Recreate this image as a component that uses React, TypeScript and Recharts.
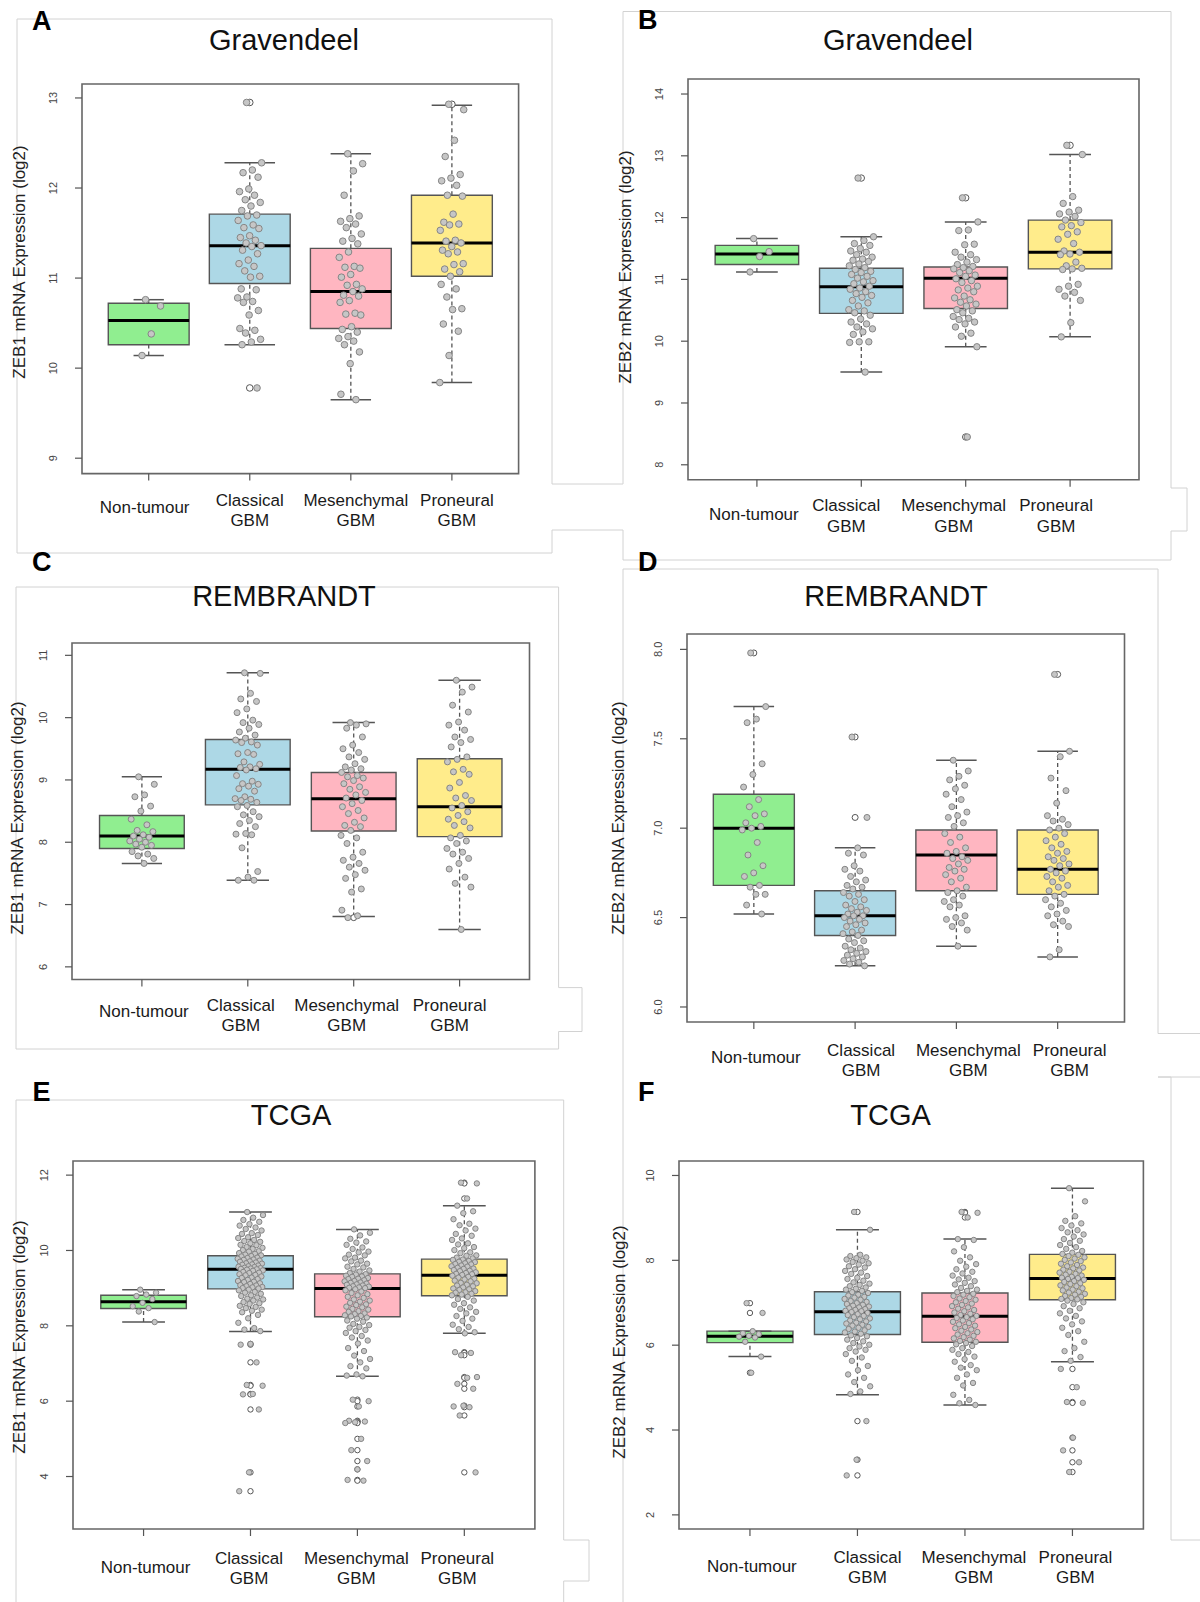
import React from "react";
import { ComposedChart, XAxis, YAxis, Scatter, ReferenceArea, ReferenceLine } from "recharts";

// ---------- shared ----------
const CATEGORIES = ["Non-tumour", "Classical GBM", "Mesenchymal GBM", "Proneural GBM"];
const BOX_COLORS = ["#90EE90", "#ADD8E6", "#FFB6C1", "#FFEC8B"];
const X_DOMAIN: [number, number] = [0.34, 4.66];

// box stats: [lower whisker, Q1, median, Q3, upper whisker]
// ---------- Panel A: Gravendeel ZEB1 ----------
const A_YTICKS = [9, 10, 11, 12, 13];
const A_BOXES = [
  [10.14, 10.26, 10.53, 10.72, 10.76],
  [10.26, 10.94, 11.36, 11.71, 12.28],
  [9.65, 10.44, 10.85, 11.33, 12.38],
  [9.84, 11.02, 11.39, 11.92, 12.92],
];
const A_NT = [10.76, 10.69, 10.38, 10.14];
const A_CL = [12.95, 12.28, 12.20, 12.17, 12.12, 11.99, 11.96, 11.92, 11.87, 11.84, 11.80, 11.75, 11.70, 11.69, 11.64, 11.59, 11.56, 11.55, 11.47, 11.45, 11.42, 11.39, 11.36, 11.35, 11.31, 11.27, 11.20, 11.16, 11.13, 11.08, 11.02, 11.01, 10.88, 10.87, 10.79, 10.78, 10.74, 10.73, 10.64, 10.59, 10.44, 10.42, 10.39, 10.32, 10.29, 10.26, 9.78];
const A_ME = [12.38, 12.27, 12.19, 11.92, 11.69, 11.66, 11.63, 11.60, 11.56, 11.49, 11.44, 11.41, 11.38, 11.29, 11.23, 11.13, 11.12, 11.11, 11.04, 11.01, 10.93, 10.92, 10.88, 10.85, 10.81, 10.80, 10.75, 10.73, 10.61, 10.60, 10.59, 10.46, 10.43, 10.40, 10.35, 10.33, 10.30, 10.26, 10.18, 10.05, 9.71, 9.65];
const A_PN = [12.93, 12.87, 12.53, 12.35, 12.15, 12.11, 12.08, 12.03, 11.92, 11.91, 11.71, 11.62, 11.60, 11.59, 11.53, 11.42, 11.41, 11.39, 11.35, 11.31, 11.29, 11.27, 11.16, 11.15, 11.10, 11.07, 11.02, 10.93, 10.88, 10.79, 10.66, 10.65, 10.49, 10.41, 10.14, 9.84];

// ---------- Panel B: Gravendeel ZEB2 ----------
const B_YTICKS = [8, 9, 10, 11, 12, 13, 14];
const B_BOXES = [
  [11.12, 11.24, 11.41, 11.55, 11.66],
  [9.50, 10.45, 10.88, 11.18, 11.69],
  [9.91, 10.53, 11.02, 11.20, 11.93],
  [10.07, 11.17, 11.44, 11.96, 13.02],
];
const B_NT = [11.66, 11.45, 11.37, 11.12];
const B_CL = [12.64, 11.69, 11.63, 11.58, 11.55, 11.50, 11.46, 11.44, 11.40, 11.36, 11.33, 11.31, 11.29, 11.25, 11.22, 11.19, 11.16, 11.13, 11.11, 11.08, 11.05, 11.02, 10.98, 10.96, 10.93, 10.89, 10.86, 10.84, 10.80, 10.77, 10.74, 10.71, 10.66, 10.62, 10.57, 10.51, 10.49, 10.46, 10.42, 10.36, 10.31, 10.28, 10.23, 10.20, 10.15, 10.11, 9.99, 9.99, 9.98, 9.50];
const B_ME = [12.32, 11.93, 11.80, 11.79, 11.57, 11.56, 11.44, 11.40, 11.36, 11.32, 11.28, 11.24, 11.21, 11.19, 11.17, 11.14, 11.11, 11.07, 11.05, 11.01, 10.98, 10.95, 10.89, 10.86, 10.83, 10.80, 10.73, 10.70, 10.67, 10.63, 10.60, 10.57, 10.51, 10.49, 10.46, 10.40, 10.37, 10.35, 10.31, 10.28, 10.23, 10.13, 10.08, 9.91, 8.45];
const B_PN = [13.17, 13.02, 12.34, 12.23, 12.12, 12.09, 12.06, 12.02, 11.96, 11.92, 11.87, 11.85, 11.77, 11.73, 11.65, 11.58, 11.46, 11.44, 11.41, 11.40, 11.28, 11.22, 11.18, 11.17, 11.16, 10.92, 10.89, 10.84, 10.79, 10.73, 10.66, 10.30, 10.07];

// ---------- Panel C: REMBRANDT ZEB1 ----------
const C_YTICKS = [6, 7, 8, 9, 10, 11];
const C_BOXES = [
  [7.66, 7.90, 8.10, 8.43, 9.05],
  [7.39, 8.60, 9.17, 9.65, 10.72],
  [6.81, 8.18, 8.70, 9.12, 9.92],
  [6.60, 8.09, 8.57, 9.34, 10.60],
];
const C_NT = [9.05, 8.93, 8.76, 8.73, 8.58, 8.50, 8.37, 8.28, 8.19, 8.17, 8.12, 8.10, 8.08, 8.05, 8.02, 8.00, 7.97, 7.95, 7.92, 7.85, 7.81, 7.78, 7.74, 7.66];
const C_CL = [10.72, 10.71, 10.39, 10.30, 10.26, 10.14, 10.08, 9.96, 9.92, 9.89, 9.83, 9.77, 9.72, 9.67, 9.64, 9.61, 9.60, 9.56, 9.44, 9.42, 9.41, 9.29, 9.25, 9.21, 9.20, 9.18, 9.16, 9.07, 8.98, 8.94, 8.93, 8.90, 8.86, 8.82, 8.73, 8.70, 8.69, 8.67, 8.64, 8.59, 8.57, 8.49, 8.44, 8.41, 8.35, 8.30, 8.25, 8.14, 8.13, 8.12, 7.91, 7.53, 7.44, 7.39, 7.39];
const C_ME = [9.92, 9.90, 9.88, 9.83, 9.69, 9.56, 9.50, 9.44, 9.37, 9.33, 9.26, 9.21, 9.18, 9.16, 9.12, 9.07, 9.05, 9.03, 8.99, 8.94, 8.89, 8.85, 8.80, 8.76, 8.71, 8.67, 8.62, 8.57, 8.51, 8.46, 8.39, 8.32, 8.27, 8.25, 8.19, 8.11, 8.07, 7.98, 7.84, 7.76, 7.71, 7.66, 7.60, 7.55, 7.48, 7.42, 7.25, 7.20, 6.91, 6.82, 6.79];
const C_PN = [10.60, 10.49, 10.41, 10.20, 10.09, 9.93, 9.88, 9.80, 9.69, 9.65, 9.60, 9.53, 9.37, 9.33, 9.29, 9.17, 9.13, 9.09, 8.96, 8.87, 8.75, 8.71, 8.67, 8.59, 8.55, 8.49, 8.43, 8.37, 8.33, 8.27, 8.23, 8.11, 8.07, 8.02, 7.98, 7.90, 7.84, 7.81, 7.74, 7.66, 7.57, 7.44, 7.34, 7.28, 6.60];

// ---------- Panel D: REMBRANDT ZEB2 ----------
const D_YTICKS = [6.0, 6.5, 7.0, 7.5, 8.0];
const D_BOXES = [
  [6.52, 6.68, 7.00, 7.19, 7.68],
  [6.23, 6.40, 6.51, 6.65, 6.89],
  [6.34, 6.65, 6.85, 6.99, 7.38],
  [6.28, 6.63, 6.77, 6.99, 7.43],
];
const D_NT = [7.98, 7.68, 7.61, 7.59, 7.36, 7.30, 7.23, 7.16, 7.12, 7.08, 7.07, 7.03, 7.01, 7.00, 6.99, 6.92, 6.85, 6.79, 6.75, 6.73, 6.68, 6.67, 6.63, 6.63, 6.57, 6.52];
const D_CL = [7.51, 7.06, 6.89, 6.86, 6.85, 6.79, 6.77, 6.76, 6.73, 6.71, 6.70, 6.68, 6.67, 6.66, 6.64, 6.63, 6.62, 6.60, 6.59, 6.57, 6.56, 6.55, 6.54, 6.53, 6.52, 6.51, 6.51, 6.50, 6.49, 6.48, 6.47, 6.46, 6.45, 6.43, 6.42, 6.41, 6.40, 6.38, 6.37, 6.36, 6.34, 6.33, 6.32, 6.31, 6.30, 6.29, 6.28, 6.27, 6.26, 6.25, 6.24, 6.23];
const D_ME = [7.38, 7.32, 7.29, 7.27, 7.24, 7.22, 7.19, 7.16, 7.12, 7.09, 7.07, 7.06, 7.03, 7.01, 6.97, 6.95, 6.92, 6.89, 6.87, 6.86, 6.84, 6.83, 6.82, 6.80, 6.78, 6.77, 6.76, 6.74, 6.72, 6.70, 6.67, 6.65, 6.64, 6.62, 6.60, 6.59, 6.57, 6.56, 6.51, 6.50, 6.49, 6.47, 6.45, 6.43, 6.34];
const D_PN = [7.86, 7.43, 7.40, 7.28, 7.21, 7.14, 7.07, 7.05, 7.04, 7.02, 7.00, 6.99, 6.97, 6.95, 6.93, 6.91, 6.89, 6.87, 6.86, 6.84, 6.83, 6.82, 6.80, 6.79, 6.77, 6.76, 6.75, 6.73, 6.72, 6.70, 6.68, 6.67, 6.65, 6.63, 6.62, 6.60, 6.58, 6.56, 6.54, 6.52, 6.51, 6.48, 6.46, 6.45, 6.32, 6.28];

// ---------- Panel E: TCGA ZEB1 ----------
const E_YTICKS = [4, 6, 8, 10, 12];
const E_BOXES = [
  [8.10, 8.46, 8.64, 8.81, 8.96],
  [7.85, 8.98, 9.50, 9.86, 11.02],
  [6.66, 8.24, 8.99, 9.38, 10.56],
  [7.80, 8.80, 9.34, 9.77, 11.19],
];
const E_NT = [8.96, 8.88, 8.83, 8.79, 8.71, 8.61, 8.52, 8.47, 8.38, 8.10];
const E_CL = [11.02, 10.94, 10.87, 10.81, 10.76, 10.70, 10.66, 10.61, 10.57, 10.53, 10.46, 10.44, 10.41, 10.35, 10.33, 10.28, 10.25, 10.23, 10.19, 10.15, 10.14, 10.09, 10.07, 10.04, 10.01, 9.98, 9.97, 9.93, 9.91, 9.89, 9.87,
  9.85, 9.84, 9.81, 9.80, 9.78, 9.76, 9.75, 9.73, 9.71, 9.70, 9.68, 9.66, 9.65, 9.63, 9.62, 9.60, 9.58, 9.57, 9.56, 9.54, 9.53, 9.52, 9.51, 9.50,
  9.49, 9.47, 9.46, 9.43, 9.41, 9.40, 9.37, 9.35, 9.34, 9.31, 9.28, 9.27, 9.24, 9.22, 9.19, 9.17, 9.16, 9.13, 9.11, 9.08, 9.07, 9.05, 9.03, 9.02, 9.00, 8.99,
  8.96, 8.94, 8.90, 8.88, 8.85, 8.81, 8.79, 8.75, 8.72, 8.70, 8.67, 8.63, 8.60, 8.58, 8.53, 8.50, 8.47, 8.43, 8.40, 8.36, 8.29, 8.20, 8.08, 7.94, 7.90, 7.86,
  7.52, 7.50, 7.03, 6.43, 6.41, 6.19, 6.18, 5.78, 4.11, 3.61];
const E_ME = [10.56, 10.47, 10.40, 10.31, 10.24, 10.21, 10.15, 10.08, 10.04, 9.97, 9.95, 9.89, 9.87, 9.81, 9.79, 9.73, 9.71, 9.65, 9.63, 9.57, 9.55, 9.51, 9.47, 9.44, 9.40,
  9.37, 9.36, 9.33, 9.31, 9.30, 9.27, 9.25, 9.24, 9.21, 9.19, 9.18, 9.15, 9.14, 9.12, 9.10, 9.09, 9.07, 9.05, 9.04, 9.02, 9.01, 9.00,
  8.97, 8.94, 8.91, 8.87, 8.84, 8.81, 8.77, 8.74, 8.70, 8.67, 8.64, 8.61, 8.57, 8.55, 8.51, 8.49, 8.45, 8.43, 8.39, 8.37, 8.33, 8.31, 8.28, 8.26, 8.25,
  8.22, 8.19, 8.14, 8.11, 8.05, 8.02, 7.97, 7.95, 7.89, 7.86, 7.81, 7.73, 7.69, 7.61, 7.53, 7.41, 7.33, 7.21, 7.12, 7.03, 6.93, 6.87, 6.71, 6.68, 6.66,
  6.04, 6.00, 5.86, 5.48, 5.46, 5.44, 5.42, 5.00, 4.70, 4.41, 4.19, 3.91, 3.89];
const E_PN = [11.80, 11.78, 11.38, 11.19, 11.04, 10.99, 10.83, 10.71, 10.67, 10.58, 10.53, 10.44, 10.39, 10.32, 10.28, 10.19, 10.16, 10.09, 10.06, 10.01, 9.95, 9.93, 9.87, 9.86, 9.81, 9.79,
  9.76, 9.75, 9.72, 9.70, 9.69, 9.66, 9.64, 9.63, 9.60, 9.58, 9.57, 9.54, 9.52, 9.51, 9.48, 9.46, 9.45, 9.42, 9.40, 9.38, 9.37, 9.35,
  9.33, 9.30, 9.28, 9.25, 9.23, 9.20, 9.18, 9.14, 9.13, 9.09, 9.07, 9.05, 9.02, 8.99, 8.97, 8.95, 8.92, 8.89, 8.88, 8.85, 8.83, 8.81,
  8.77, 8.71, 8.67, 8.60, 8.56, 8.49, 8.45, 8.37, 8.33, 8.26, 8.19, 8.13, 8.03, 7.97, 7.91, 7.83, 7.80,
  7.30, 7.28, 7.22, 6.64, 6.62, 6.46, 6.33, 5.88, 5.86, 5.84, 5.62, 4.11];

// ---------- Panel F: TCGA ZEB2 ----------
const F_YTICKS = [2, 4, 6, 8, 10];
const F_BOXES = [
  [5.73, 6.06, 6.21, 6.33, 6.33],
  [4.83, 6.25, 6.79, 7.26, 8.72],
  [4.59, 6.07, 6.68, 7.23, 8.50],
  [5.61, 7.07, 7.57, 8.14, 9.70],
];
const F_NT = [6.99, 6.76, 6.33, 6.28, 6.26, 6.22, 6.20, 6.18, 6.08, 5.73, 5.35];
const F_CL = [9.14, 8.72, 8.13, 8.10, 8.07, 8.05, 8.02, 7.99, 7.96, 7.93, 7.90, 7.86, 7.83, 7.79, 7.75, 7.71, 7.68, 7.63, 7.59, 7.56, 7.52, 7.48, 7.45, 7.42, 7.39, 7.36, 7.33, 7.31, 7.28,
  7.25, 7.23, 7.19, 7.17, 7.14, 7.12, 7.09, 7.07, 7.04, 7.02, 6.99, 6.97, 6.95, 6.93, 6.91, 6.89, 6.87, 6.85, 6.83, 6.81, 6.80,
  6.78, 6.76, 6.73, 6.71, 6.69, 6.66, 6.63, 6.61, 6.58, 6.56, 6.53, 6.51, 6.48, 6.46, 6.43, 6.41, 6.38, 6.35, 6.32, 6.30, 6.27,
  6.23, 6.21, 6.17, 6.13, 6.09, 6.05, 6.01, 5.97, 5.93, 5.89, 5.85, 5.79, 5.71, 5.63, 5.51, 5.41, 5.31, 5.23, 5.13, 5.03, 4.91, 4.85,
  4.21, 3.30, 2.93];
const F_ME = [9.14, 9.12, 9.01, 8.50, 8.48, 8.31, 8.21, 8.07, 7.99, 7.91, 7.85, 7.79, 7.73, 7.69, 7.64, 7.59, 7.55, 7.51, 7.47, 7.43, 7.39, 7.35, 7.31, 7.28, 7.25,
  7.21, 7.19, 7.16, 7.13, 7.10, 7.07, 7.04, 7.01, 6.98, 6.95, 6.92, 6.89, 6.86, 6.83, 6.80, 6.77, 6.74, 6.71, 6.69,
  6.66, 6.64, 6.61, 6.58, 6.55, 6.52, 6.49, 6.46, 6.43, 6.40, 6.37, 6.34, 6.31, 6.28, 6.25, 6.22, 6.19, 6.16, 6.13, 6.10, 6.08,
  6.05, 6.02, 5.98, 5.93, 5.89, 5.84, 5.79, 5.73, 5.67, 5.61, 5.53, 5.47, 5.41, 5.31, 5.23, 5.11, 5.05, 4.83, 4.71, 4.63, 4.59];
const F_PN = [9.70, 9.39, 9.04, 8.93, 8.87, 8.82, 8.76, 8.71, 8.66, 8.61, 8.56, 8.50, 8.46, 8.41, 8.36, 8.31, 8.27, 8.22, 8.18, 8.15,
  8.13, 8.10, 8.07, 8.04, 8.01, 7.98, 7.95, 7.92, 7.89, 7.86, 7.83, 7.81, 7.78, 7.76, 7.73, 7.71, 7.68, 7.66, 7.64, 7.61, 7.59, 7.58,
  7.56, 7.54, 7.51, 7.49, 7.46, 7.44, 7.41, 7.39, 7.36, 7.34, 7.31, 7.29, 7.26, 7.24, 7.21, 7.19, 7.16, 7.14, 7.11, 7.09, 7.08,
  7.05, 7.01, 6.97, 6.92, 6.87, 6.81, 6.75, 6.69, 6.63, 6.56, 6.49, 6.41, 6.33, 6.24, 6.08, 5.93, 5.86, 5.72, 5.63,
  5.44, 5.01, 4.66, 4.64, 3.82, 3.52, 3.24, 3.01];

// ---------- rendering ----------
const FONT = "'Liberation Sans', Arial, Helvetica, sans-serif";
const JIT_AMP = 0.12;
const jit = (k: number) => (((k * 0.6180339887 + 0.37) % 1) - 0.5) * 2;

interface PanelDef {
  plot: [number, number, number, number];
  yDomain: [number, number];
  yTicks: number[];
  decimals: number;
  boxes: number[][];
  groups: number[][];
  capW: number[];
  labelDx: number[];
  labelDy: [number, number, number];
  r: number;
}

const L = 60, T = 10, R = 10, B = 70;

function Panel({ def }: { def: PanelDef }) {
  const [x1, y1, x2, y2] = def.plot;
  const pw = x2 - x1, ph = y2 - y1;
  const W = pw + L + R, H = ph + T + B;
  const bottom = T + ph;
  const pts = def.groups.map((vals, g) => vals.map((v, k) => ({ x: g + 1 + JIT_AMP * jit(k), y: v })));
  const outs = def.groups.map((vals, g) =>
    vals.filter((v) => v > def.boxes[g][4] + 1e-9 || v < def.boxes[g][0] - 1e-9).map((v) => ({ x: g + 1, y: v }))
  );
  const xTick = (p: any) => {
    const g = Math.round(p.payload.value) - 1;
    const lines = CATEGORIES[g].split(" ");
    const cx = p.x + def.labelDx[g];
    const common = { textAnchor: "middle" as const, dominantBaseline: "central" as const, fontSize: 17, fill: "#1a1a1a", fontFamily: FONT };
    if (lines.length === 1) {
      return <text x={cx} y={bottom + def.labelDy[2]} {...common}>{lines[0]}</text>;
    }
    return (
      <g>
        <text x={cx} y={bottom + def.labelDy[0]} {...common}>{lines[0]}</text>
        <text x={cx} y={bottom + def.labelDy[1]} {...common}>{lines[1]}</text>
      </g>
    );
  };
  const yTick = (p: any) => {
    const cx = L - 29;
    return (
      <text x={cx} y={p.y} transform={`rotate(-90 ${cx} ${p.y})`} textAnchor="middle" dominantBaseline="central" fontSize={11} fill="#444" fontFamily={FONT}>
        {Number(p.payload.value).toFixed(def.decimals)}
      </text>
    );
  };
  return (
    <div style={{ position: "absolute", left: x1 - L, top: y1 - T }}>
      <ComposedChart width={W} height={H} margin={{ top: T, right: R, bottom: 0, left: 0 }}>
        <XAxis type="number" dataKey="x" domain={X_DOMAIN} ticks={[1, 2, 3, 4]} allowDataOverflow interval={0}
          axisLine={false} tickLine={{ stroke: "#555", strokeWidth: 1.2 }} tickSize={7} height={B} tick={xTick} />
        <YAxis type="number" dataKey="y" domain={def.yDomain} ticks={def.yTicks} allowDataOverflow interval={0}
          axisLine={false} tickLine={{ stroke: "#555", strokeWidth: 1.2 }} tickSize={7} width={L} tick={yTick} />
        {def.boxes.map((b, g) => {
          const c = g + 1;
          const hw = 0.4;
          const cw = def.capW[g] / 2;
          return [
            <ReferenceLine key={`wu${g}`} segment={[{ x: c, y: b[3] }, { x: c, y: b[4] }]} stroke="#555" strokeWidth={1.3} strokeDasharray="4 3" ifOverflow="visible" />,
            <ReferenceLine key={`wl${g}`} segment={[{ x: c, y: b[0] }, { x: c, y: b[1] }]} stroke="#555" strokeWidth={1.3} strokeDasharray="4 3" ifOverflow="visible" />,
            <ReferenceLine key={`cu${g}`} segment={[{ x: c - cw, y: b[4] }, { x: c + cw, y: b[4] }]} stroke="#555" strokeWidth={1.5} ifOverflow="visible" />,
            <ReferenceLine key={`cl${g}`} segment={[{ x: c - cw, y: b[0] }, { x: c + cw, y: b[0] }]} stroke="#555" strokeWidth={1.5} ifOverflow="visible" />,
            <ReferenceArea key={`bx${g}`} x1={c - hw} x2={c + hw} y1={b[1]} y2={b[3]} fill={BOX_COLORS[g]} fillOpacity={1} stroke="#555" strokeWidth={1.4} ifOverflow="visible" />,
            <ReferenceLine key={`md${g}`} segment={[{ x: c - hw, y: b[2] }, { x: c + hw, y: b[2] }]} stroke="#000" strokeWidth={3} ifOverflow="visible" />,
          ];
        })}
        {outs.map((d, g) => (
          <Scatter key={`o${g}`} data={d} isAnimationActive={false}
            shape={(p: any) => <circle cx={p.cx} cy={p.cy} r={def.r} fill="#fff" stroke="#555" strokeWidth={1} />} />
        ))}
        {pts.map((d, g) => (
          <Scatter key={`p${g}`} data={d} isAnimationActive={false}
            shape={(p: any) => <circle cx={p.cx} cy={p.cy} r={def.r} fill="#c6c6c6" stroke="#858585" strokeWidth={1} />} />
        ))}
        <ReferenceArea x1={X_DOMAIN[0]} x2={X_DOMAIN[1]} y1={def.yDomain[0]} y2={def.yDomain[1]} fill="none" stroke="#666" strokeWidth={1.6} ifOverflow="visible" />
      </ComposedChart>
    </div>
  );
}

const PANELS: PanelDef[] = [
  { plot: [82, 84, 518.6, 473.6], yDomain: [8.829, 13.155], yTicks: A_YTICKS, decimals: 0, boxes: A_BOXES, groups: [A_NT, A_CL, A_ME, A_PN], capW: [0.3, 0.5, 0.4, 0.4], labelDx: [-4, 0, 5, 5], labelDy: [26.5, 47, 33.5], r: 3.3 },
  { plot: [687.5, 78.5, 1138.5, 479.3], yDomain: [7.757, 14.243], yTicks: B_YTICKS, decimals: 0, boxes: B_BOXES, groups: [B_NT, B_CL, B_ME, B_PN], capW: [0.4, 0.4, 0.4, 0.4], labelDx: [-3, -15, -12, -14], labelDy: [26, 46.5, 34.5], r: 3.2 },
  { plot: [72, 643, 529.5, 979.5], yDomain: [5.797, 11.198], yTicks: C_YTICKS, decimals: 0, boxes: C_BOXES, groups: [C_NT, C_CL, C_ME, C_PN], capW: [0.38, 0.4, 0.4, 0.4], labelDx: [2, -7, -7, -10], labelDy: [26.2, 46.2, 31.8], r: 3.0 },
  { plot: [687, 634, 1124.5, 1022], yDomain: [5.916, 8.086], yTicks: D_YTICKS, decimals: 1, boxes: D_BOXES, groups: [D_NT, D_CL, D_ME, D_PN], capW: [0.4, 0.4, 0.4, 0.4], labelDx: [2, 6, 12, 12], labelDy: [28.8, 48.6, 35], r: 3.0 },
  { plot: [72.7, 1161, 534.6, 1529], yDomain: [2.607, 12.375], yTicks: E_YTICKS, decimals: 0, boxes: E_BOXES, groups: [E_NT, E_CL, E_ME, E_PN], capW: [0.4, 0.4, 0.4, 0.4], labelDx: [2, -1.5, -1, -7], labelDy: [29.3, 49.2, 38.4], r: 2.7 },
  { plot: [679, 1161, 1143.4, 1529], yDomain: [1.667, 10.341], yTicks: F_YTICKS, decimals: 0, boxes: F_BOXES, groups: [F_NT, F_CL, F_ME, F_PN], capW: [0.4, 0.4, 0.4, 0.4], labelDx: [2, 10, 9, 3], labelDy: [28.5, 48.7, 37.9], r: 2.7 },
];

const LETTERS = [
  { t: "A", x: 32, y: 30.4 }, { t: "B", x: 638, y: 28.6 }, { t: "C", x: 32, y: 571 },
  { t: "D", x: 638, y: 571 }, { t: "E", x: 32.5, y: 1101 }, { t: "F", x: 638, y: 1101 },
];
const TITLES = [
  { t: "Gravendeel", x: 284, y: 50 }, { t: "Gravendeel", x: 898, y: 50 }, { t: "REMBRANDT", x: 284, y: 606 },
  { t: "REMBRANDT", x: 896, y: 605.5 }, { t: "TCGA", x: 291, y: 1125 }, { t: "TCGA", x: 890.5, y: 1125 },
];
const YLABELS = [
  { t: "ZEB1 mRNA Expression (log2)", x: 19.6, y: 262 }, { t: "ZEB2 mRNA Expression (log2)", x: 625, y: 267 },
  { t: "ZEB1 mRNA Expression (log2)", x: 17, y: 818 }, { t: "ZEB2 mRNA Expression (log2)", x: 618, y: 818 },
  { t: "ZEB1 mRNA Expression (log2)", x: 19, y: 1337 }, { t: "ZEB2 mRNA Expression (log2)", x: 619, y: 1342 },
];
const FRAMES = [
  "17,553 17,19 552,19 552,484 623,484",
  "623,530 552,530 552,553 17,553",
  "623,484 623,11.5 1171,11.5 1171,488 1187,488 1187,531 1171,531 1171,560 623,560 623,530",
  "16,1049 16,587 558.6,587 558.6,987.6 582,987.6 582,1031.5 558.6,1031.5 558.6,1049 16,1049",
  "623,1602 623,569 1158,569 1158,1033.5 1200,1033.5",
  "1200,1077 1158,1077 1171,1077 1171,1540 1200,1540",
  "16,1602 16,1100 563.7,1100 563.7,1540 589,1540 589,1581 563.7,1581 563.7,1602",
];

export default function App() {
  return (
    <div style={{ position: "absolute", left: 0, top: 0, width: 1200, height: 1602, background: "#fff", overflow: "hidden" }}>
      <svg width={1200} height={1602} style={{ position: "absolute", left: 0, top: 0 }}>
        {FRAMES.map((f, i) => (
          <polyline key={i} points={f} fill="none" stroke="#d2d2d2" strokeWidth={1} />
        ))}
        {LETTERS.map((l, i) => (
          <text key={i} x={l.x} y={l.y} fontSize={27} fontWeight="bold" fontFamily={FONT} fill="#000">{l.t}</text>
        ))}
        {TITLES.map((l, i) => (
          <text key={i} x={l.x} y={l.y} fontSize={29} textAnchor="middle" fontFamily={FONT} fill="#111">{l.t}</text>
        ))}
        {YLABELS.map((l, i) => (
          <text key={i} x={l.x} y={l.y} transform={`rotate(-90 ${l.x} ${l.y})`} fontSize={17} textAnchor="middle" dominantBaseline="central" fontFamily={FONT} fill="#222">{l.t}</text>
        ))}
      </svg>
      {PANELS.map((d, i) => (
        <Panel key={i} def={d} />
      ))}
    </div>
  );
}
